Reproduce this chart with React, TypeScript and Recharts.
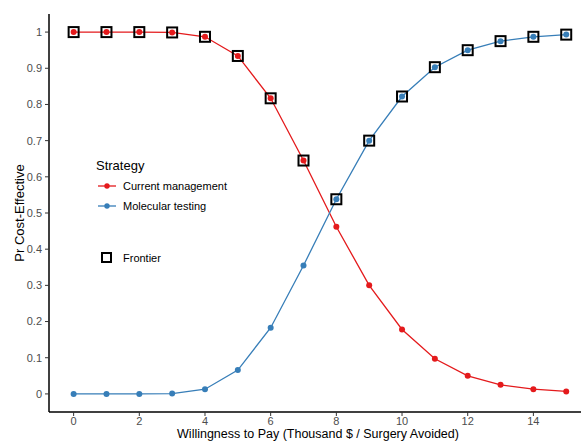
import React from "react";
import {
  ComposedChart,
  Line,
  Scatter,
  XAxis,
  YAxis,
} from "recharts";

// willingness to pay, thousand $ per surgery avoided
const wtp = [0, 1, 2, 3, 4, 5, 6, 7, 8, 9, 10, 11, 12, 13, 14, 15];
const currentMgmt = [
  1, 1, 1, 0.999, 0.987, 0.934, 0.817, 0.645, 0.462, 0.3, 0.178, 0.097, 0.05,
  0.025, 0.013, 0.007,
];
const molecularTesting = [
  0, 0, 0, 0.001, 0.013, 0.066, 0.183, 0.355, 0.538, 0.7, 0.822, 0.903, 0.95,
  0.975, 0.987, 0.993,
];
// which strategy sits on the frontier at each wtp
const frontierStrategy = [
  "current", "current", "current", "current", "current", "current", "current",
  "current", "molecular", "molecular", "molecular", "molecular", "molecular",
  "molecular", "molecular", "molecular",
];
const xTicks = [0, 2, 4, 6, 8, 10, 12, 14];
const yTicks = [0, 0.1, 0.2, 0.3, 0.4, 0.5, 0.6, 0.7, 0.8, 0.9, 1];

const RED = "#e41a1c";
const BLUE = "#377eb8";
const FONT = "'Liberation Sans', Arial, sans-serif";

const data = wtp.map((x, i) => ({
  x,
  current: currentMgmt[i],
  molecular: molecularTesting[i],
  frontier:
    frontierStrategy[i] === "current" ? currentMgmt[i] : molecularTesting[i],
}));

const tickStyle = { fontSize: 11, fill: "#4d4d4d", fontFamily: FONT };

const Square = (props: any) => {
  const { cx, cy } = props;
  if (cx == null || cy == null) return null;
  return (
    <rect
      x={cx - 5}
      y={cy - 5}
      width={10}
      height={10}
      fill="none"
      stroke="#000"
      strokeWidth={2}
    />
  );
};

export default function App() {
  return (
    <div
      style={{
        position: "absolute",
        left: 0,
        top: 0,
        width: 581,
        height: 441,
        background: "#fff",
        fontFamily: FONT,
      }}
    >
      <ComposedChart
        width={581}
        height={441}
        data={data}
        margin={{ top: 14, right: 0, bottom: 0, left: 0 }}
      >
        <XAxis
          dataKey="x"
          type="number"
          domain={[-0.75, 15.45]}
          ticks={xTicks}
          height={29}
          tick={tickStyle}
          tickSize={4}
          tickMargin={1}
          axisLine={{ stroke: "#000", strokeWidth: 1.5 }}
          tickLine={{ stroke: "#333" }}
          allowDataOverflow
        />
        <YAxis
          type="number"
          domain={[-0.05, 1.05]}
          ticks={yTicks}
          width={49}
          tick={tickStyle}
          tickSize={4}
          tickMargin={3}
          tickFormatter={(v: number) => String(Math.round(v * 10) / 10)}
          axisLine={{ stroke: "#000", strokeWidth: 1.5 }}
          tickLine={{ stroke: "#333" }}
          allowDataOverflow
        />
        <Scatter
          dataKey="frontier"
          shape={<Square />}
          isAnimationActive={false}
        />
        <Line
          type="linear"
          dataKey="current"
          stroke={RED}
          strokeWidth={1.3}
          dot={{ r: 3, fill: RED, stroke: RED, strokeWidth: 0 }}
          activeDot={false}
          isAnimationActive={false}
        />
        <Line
          type="linear"
          dataKey="molecular"
          stroke={BLUE}
          strokeWidth={1.3}
          dot={{ r: 3, fill: BLUE, stroke: BLUE, strokeWidth: 0 }}
          activeDot={false}
          isAnimationActive={false}
        />
      </ComposedChart>

      {/* axis titles and the legend, drawn over the chart */}
      <svg
        width={581}
        height={441}
        style={{ position: "absolute", left: 0, top: 0, pointerEvents: "none" }}
      >
        <text
          x={318}
          y={438}
          textAnchor="middle"
          fontSize={12.5}
          fontFamily={FONT}
          fill="#000"
        >
          Willingness to Pay (Thousand $ / Surgery Avoided)
        </text>
        <text
          transform="translate(24,213) rotate(-90)"
          textAnchor="middle"
          fontSize={13}
          fontFamily={FONT}
          fill="#000"
        >
          Pr Cost-Effective
        </text>

        <text x={96} y={170} fontSize={13} fontFamily={FONT} fill="#000">
          Strategy
        </text>
        <line x1={98} x2={116} y1={186} y2={186} stroke={RED} strokeWidth={1.3} />
        <circle cx={107} cy={186} r={2.7} fill={RED} />
        <text x={123} y={190} fontSize={11} fontFamily={FONT} fill="#000">
          Current management
        </text>
        <line x1={98} x2={116} y1={206} y2={206} stroke={BLUE} strokeWidth={1.3} />
        <circle cx={107} cy={206} r={2.7} fill={BLUE} />
        <text x={123} y={210} fontSize={11} fontFamily={FONT} fill="#000">
          Molecular testing
        </text>
        <rect
          x={102}
          y={253}
          width={9}
          height={9}
          fill="none"
          stroke="#000"
          strokeWidth={2}
        />
        <text x={123} y={262} fontSize={11} fontFamily={FONT} fill="#000">
          Frontier
        </text>
      </svg>
    </div>
  );
}
